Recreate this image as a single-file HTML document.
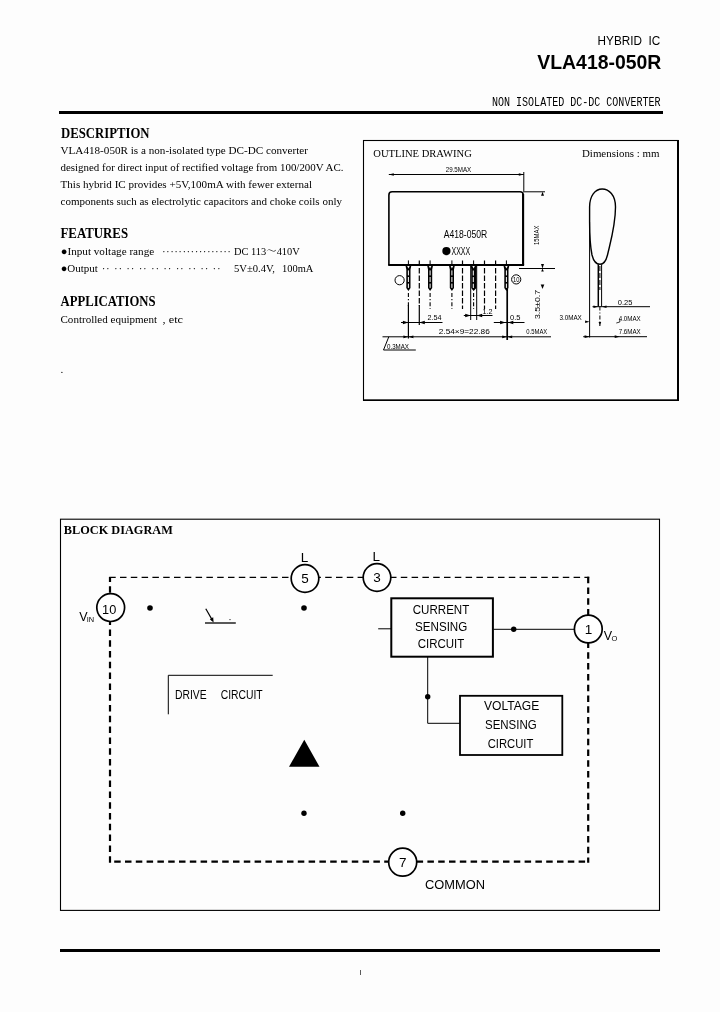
<!DOCTYPE html>
<html lang="en">
<head>
<meta charset="utf-8">
<title>VLA418-050R</title>
<style>
html,body{margin:0;padding:0;background:#fdfdfd;}
body{width:720px;height:1012px;overflow:hidden;position:relative;}
svg{position:absolute;left:0;top:0;display:block;filter:grayscale(1);}
text{fill:#000;}
.sans{font-family:"Liberation Sans",sans-serif;}
.serif{font-family:"Liberation Serif",serif;}
.mono{font-family:"Liberation Mono",monospace;}
.b{font-weight:bold;}
.ln{stroke:#000;fill:none;}
</style>
</head>
<body>
<svg width="720" height="1012" viewBox="0 0 720 1012">
<!-- ===== header ===== -->
<g id="header">
<text class="sans" x="597.6" y="44.9" font-size="13.4" textLength="44.4" lengthAdjust="spacingAndGlyphs">HYBRID</text>
<text class="sans" x="648.6" y="44.9" font-size="13.4" textLength="11.8" lengthAdjust="spacingAndGlyphs">IC</text>
<text class="sans b" x="661.3" y="68.8" font-size="20" text-anchor="end" textLength="124" lengthAdjust="spacingAndGlyphs">VLA418-050R</text>
<text class="mono" x="660.5" y="105.5" font-size="12.5" text-anchor="end" textLength="168.5" lengthAdjust="spacingAndGlyphs">NON ISOLATED DC-DC CONVERTER</text>
<rect x="59" y="111" width="604" height="3" fill="#000"/>
</g>

<!-- ===== left text ===== -->
<g id="lefttext">
<text class="serif b" x="61" y="137.8" font-size="14.3" textLength="88.5" lengthAdjust="spacingAndGlyphs">DESCRIPTION</text>
<g class="serif" font-size="11">
<text x="60.5" y="154.2" textLength="247.5" lengthAdjust="spacingAndGlyphs">VLA418-050R is a non-isolated type DC-DC converter</text>
<text x="60.5" y="170.7" textLength="283" lengthAdjust="spacingAndGlyphs">designed for direct input of rectified voltage from 100/200V AC.</text>
<text x="60.5" y="187.7" textLength="251.5" lengthAdjust="spacingAndGlyphs">This hybrid IC provides +5V,100mA with fewer external</text>
<text x="60.5" y="204.6" textLength="281.5" lengthAdjust="spacingAndGlyphs">components such as electrolytic capacitors and choke coils only</text>
</g>
<text class="serif b" x="60.5" y="238.2" font-size="14.3" textLength="67.6" lengthAdjust="spacingAndGlyphs">FEATURES</text>
<g class="serif" font-size="11">
<text x="60.7" y="255.1" textLength="93.5" lengthAdjust="spacingAndGlyphs">●Input voltage range</text>
<text x="162" y="255.1" textLength="69" lengthAdjust="spacing" fill="#555">·················</text>
<text x="234" y="255.1" textLength="65.8" lengthAdjust="spacingAndGlyphs" style="font-family:'Liberation Serif','Noto Serif CJK JP',serif">DC 113～410V</text>
<text x="60.7" y="271.6" textLength="37.1" lengthAdjust="spacingAndGlyphs">●Output</text>
<text x="101.7" y="271.6" textLength="119" lengthAdjust="spacing" fill="#555">·· ·· ·· ·· ·· ·· ·· ·· ·· ··</text>
<text x="234" y="271.6" textLength="41" lengthAdjust="spacingAndGlyphs">5V±0.4V,</text>
<text x="282" y="271.6" textLength="31.3" lengthAdjust="spacingAndGlyphs">100mA</text>
</g>
<text class="serif b" x="60.5" y="305.8" font-size="14.3" textLength="95" lengthAdjust="spacingAndGlyphs">APPLICATIONS</text>
<g class="serif" font-size="11">
<text x="60.5" y="322.6" textLength="96.6" lengthAdjust="spacingAndGlyphs">Controlled equipment</text>
<text x="162.6" y="322.6" textLength="20.4" lengthAdjust="spacingAndGlyphs">, etc</text>
<text x="60.5" y="373">.</text>
</g>
</g>

<!-- ===== outline drawing ===== -->
<g id="outline">
<defs>
<g id="pin">
<line x1="0" y1="-4.5" x2="0" y2="0" stroke="#000" stroke-width="1"/>
<path d="M-2.9,0.8 L2.9,0.8 L2.1,4.5 L2.1,23 L0,26 L-2.1,23 L-2.1,4.5 Z" fill="#000"/>
<path d="M-1.2,1 L0,3.6 L1.2,1 Z" fill="#fff"/>
<line x1="0" y1="5.5" x2="0" y2="23" stroke="#fff" stroke-width="1" stroke-dasharray="5 1.6"/>
</g>
</defs>
<!-- frame -->
<rect x="363.5" y="140.5" width="314.5" height="259.7" class="ln" stroke-width="1.1"/>
<line x1="678" y1="140" x2="678" y2="401" class="ln" stroke-width="2"/>
<line x1="363" y1="400.2" x2="679" y2="400.2" class="ln" stroke-width="1.4"/>
<text class="serif" x="373.3" y="157.2" font-size="10.5" textLength="98.5" lengthAdjust="spacingAndGlyphs">OUTLINE DRAWING</text>
<text class="serif" x="582" y="157.2" font-size="10.5" textLength="77.5" lengthAdjust="spacingAndGlyphs">Dimensions : mm</text>

<!-- front view body -->
<path d="M388.9,264.9 L388.9,195 Q388.9,191.8 392.1,191.8 L520,191.8 Q523.2,191.8 523.2,195 L523.2,264.9" class="ln" stroke-width="1.6"/>
<line x1="388.2" y1="264.9" x2="524.1" y2="264.9" class="ln" stroke-width="2"/>
<line x1="523.1" y1="194" x2="523.1" y2="265" class="ln" stroke-width="2.1"/>
<text class="sans" x="443.8" y="238" font-size="11.2" textLength="43.5" lengthAdjust="spacingAndGlyphs">A418-050R</text>
<circle cx="446.4" cy="251.1" r="4.1" fill="#000"/>
<text class="sans" x="451.5" y="254.8" font-size="10.6" textLength="18.7" lengthAdjust="spacingAndGlyphs">XXXX</text>

<!-- top dimension 29.5MAX -->
<line x1="388.8" y1="174.5" x2="523.8" y2="174.5" class="ln" stroke-width="1"/>
<path d="M388.8,174.5 l5,-1.3 v2.6 z M523.8,174.5 l-5,-1.3 v2.6 z" fill="#000"/>
<line x1="523.8" y1="172" x2="523.8" y2="191" class="ln" stroke-width="1"/>
<text class="sans" x="445.75" y="172.3" font-size="8" textLength="25.5" lengthAdjust="spacingAndGlyphs">29.5MAX</text>

<!-- right side dimensions -->
<line x1="523" y1="191.8" x2="545" y2="191.8" class="ln" stroke-width="1"/>
<path d="M542.5,191.8 l-1.5,4 h3 z" fill="#000"/>
<line x1="519" y1="268.5" x2="555" y2="268.5" class="ln" stroke-width="1"/>
<path d="M542.5,268.5 l-1.5,-4.5 h3 z M542.5,268.5 l-1.3,3 h2.6 z" fill="#000"/>
<path d="M542.5,289 l-1.8,-4.5 h3.6 z" fill="#000"/>
<text class="sans" font-size="8" transform="translate(539,245) rotate(-90)" textLength="19.5" lengthAdjust="spacingAndGlyphs">15MAX</text>
<text class="sans" font-size="8" transform="translate(540.2,319) rotate(-90)" textLength="29" lengthAdjust="spacingAndGlyphs">3.5±0.7</text>

<!-- pins -->
<use href="#pin" x="408.4" y="264.9"/>
<use href="#pin" x="430.1" y="264.9"/>
<use href="#pin" x="451.9" y="264.9"/>
<use href="#pin" x="506.4" y="264.9"/>
<!-- pin 7 (wide) -->
<line x1="473.6" y1="260.4" x2="473.6" y2="264.9" class="ln" stroke-width="1"/>
<path d="M470.6,265.7 L476.8,265.7 L476.4,269 L476.4,288 L473.6,291 L471.2,288 L471.2,269 Z" fill="#000"/>
<path d="M472.4,266 L473.6,268.6 L474.8,266 Z" fill="#fff"/>
<line x1="473.3" y1="270.5" x2="473.3" y2="288" stroke="#fff" stroke-width="1" stroke-dasharray="5 1.6"/>
<line x1="470.7" y1="265" x2="470.7" y2="320" class="ln" stroke-width="1"/>
<line x1="476.7" y1="265" x2="476.7" y2="320" class="ln" stroke-width="1"/>
<!-- pin centre lines -->
<g class="ln" stroke-width="1.1" stroke-dasharray="4 2 1.3 2">
<line x1="408.4" y1="293" x2="408.4" y2="306"/>
<line x1="430.1" y1="293" x2="430.1" y2="309"/>
<line x1="451.9" y1="293" x2="451.9" y2="309"/>
<line x1="473.6" y1="293" x2="473.6" y2="309"/>
</g>
<line x1="507.2" y1="289" x2="507.2" y2="340" class="ln" stroke-width="1.7"/>
<line x1="408.4" y1="305" x2="408.4" y2="338.5" class="ln" stroke-width="1.2"/>
<line x1="419.3" y1="305" x2="419.3" y2="325" class="ln" stroke-width="1.2"/>
<!-- absent pins dashed -->
<g class="ln" stroke-width="1.2" stroke-dasharray="5.5 2">
<line x1="419.3" y1="260.4" x2="419.3" y2="306"/>
<line x1="462.5" y1="260.4" x2="462.5" y2="309"/>
<line x1="484.5" y1="260.4" x2="484.5" y2="309"/>
<line x1="495.6" y1="260.4" x2="495.6" y2="309"/>
</g>
<!-- pin markers -->
<circle cx="399.6" cy="280.2" r="4.6" class="ln" stroke-width="1"/>
<circle cx="516.2" cy="279.4" r="4.6" class="ln" stroke-width="1"/>
<text class="sans" x="516.3" y="282" font-size="7.5" text-anchor="middle" textLength="6.4" lengthAdjust="spacingAndGlyphs">10</text>

<!-- 2.54 -->
<line x1="401" y1="322.5" x2="442.5" y2="322.5" class="ln" stroke-width="1"/>
<path d="M408.4,322.5 l-5.5,-1.7 v3.4 z M419.3,322.5 l5.5,-1.7 v3.4 z" fill="#000"/>
<text class="sans" x="427.5" y="320.3" font-size="8" textLength="14" lengthAdjust="spacingAndGlyphs">2.54</text>
<!-- 1.2 -->
<line x1="463.8" y1="315.5" x2="492.5" y2="315.5" class="ln" stroke-width="1"/>
<path d="M470.7,315.5 l-5.5,-1.7 v3.4 z M476.7,315.5 l5.5,-1.7 v3.4 z" fill="#000"/>
<text class="sans" x="482.5" y="313.8" font-size="8" textLength="10" lengthAdjust="spacingAndGlyphs">1.2</text>
<!-- 0.5 -->
<line x1="493.8" y1="322.5" x2="524.5" y2="322.5" class="ln" stroke-width="1"/>
<path d="M505.6,322.5 l-5.5,-1.7 v3.4 z M507.8,322.5 l5.5,-1.7 v3.4 z" fill="#000"/>
<text class="sans" x="510" y="320.3" font-size="8" textLength="10.5" lengthAdjust="spacingAndGlyphs">0.5</text>
<!-- bottom dimension -->
<line x1="382.5" y1="336.8" x2="551" y2="336.8" class="ln" stroke-width="1"/>
<path d="M408.4,336.8 l-5,-1.4 v2.8 z M408.4,336.8 l5,-1.4 v2.8 z M507.2,336.8 l-5,-1.4 v2.8 z M507.2,336.8 l5,-1.4 v2.8 z" fill="#000"/>
<text class="sans" x="438.75" y="334" font-size="8" textLength="51" lengthAdjust="spacingAndGlyphs">2.54×9=22.86</text>
<text class="sans" x="526.3" y="334" font-size="8" textLength="21" lengthAdjust="spacingAndGlyphs">0.5MAX</text>
<!-- 0.3MAX leader -->
<path d="M388.8,336.8 L383.5,350 L415.8,350" class="ln" stroke-width="1"/>
<text class="sans" x="387" y="348.7" font-size="8" textLength="22" lengthAdjust="spacingAndGlyphs">0.3MAX</text>

<!-- side view -->
<path d="M602.2,189 C609,189 615.5,195 615.5,207 C615.5,225 611,240 607.5,255 C606,261 604,264.3 600,264.3 C596,264.3 593.5,261 592,255 C590,245 589.6,235 589.6,222 L589.6,207 C589.6,196 595,189 602.2,189 Z" class="ln" stroke-width="1.4"/>
<line x1="589.6" y1="222" x2="589.6" y2="337.5" class="ln" stroke-width="1"/>
<line x1="598.3" y1="264.3" x2="598.3" y2="306.5" class="ln" stroke-width="1.5"/>
<line x1="601.6" y1="264.3" x2="601.6" y2="306.5" class="ln" stroke-width="1"/>
<line x1="599.9" y1="266" x2="599.9" y2="290" class="ln" stroke-width="1" stroke-dasharray="5 2"/>
<line x1="599.9" y1="306.5" x2="599.9" y2="326" class="ln" stroke-width="1" stroke-dasharray="4 2 1 2"/>
<!-- 0.25 -->
<line x1="592.5" y1="306.7" x2="650" y2="306.7" class="ln" stroke-width="1"/>
<path d="M598,306.7 l-4.5,-1.3 v2.6 z M602,306.7 l4.5,-1.3 v2.6 z" fill="#000"/>
<text class="sans" x="617.8" y="304.6" font-size="8" textLength="14.6" lengthAdjust="spacingAndGlyphs">0.25</text>
<text class="sans" x="559.4" y="319.8" font-size="8" textLength="22.4" lengthAdjust="spacingAndGlyphs">3.0MAX</text>
<path d="M589.6,321.7 l-4.5,-1.3 v2.6 z" fill="#000"/>
<path d="M599.9,326 l-1.3,-4 h2.6 z" fill="#000"/>
<text class="sans" x="618.7" y="320.8" font-size="8" textLength="22" lengthAdjust="spacingAndGlyphs">4.0MAX</text>
<path d="M616.3,323 l3.5,-1 v-3" class="ln" stroke-width="0.8"/>
<text class="sans" x="618.7" y="334.4" font-size="8" textLength="22" lengthAdjust="spacingAndGlyphs">7.6MAX</text>
<line x1="583.2" y1="336.7" x2="647" y2="336.7" class="ln" stroke-width="1"/>
<path d="M589.6,336.7 l-5,-1.4 v2.8 z M619.7,336.7 l-5,-1.4 v2.8 z" fill="#000"/>
</g>

<!-- ===== block diagram ===== -->
<g id="block">
<rect x="60.5" y="519.2" width="599" height="391.2" class="ln" stroke-width="1.1"/>
<text class="serif b" x="63.8" y="533.9" font-size="13.2" textLength="109" lengthAdjust="spacingAndGlyphs">BLOCK DIAGRAM</text>

<!-- dashed loop -->
<g class="ln" stroke-dasharray="6.5 4.3">
<path d="M109.2,577.4 L589.2,577.4" stroke-width="1.2"/>
<path d="M110,862.7 L110,577" stroke-width="2.2"/>
<path d="M588.2,576.7 L588.2,862.8" stroke-width="2.2"/>
<path d="M114.2,861.7 L589.3,861.7" stroke-width="2.2"/>
</g>

<!-- terminals -->
<g fill="#fff" stroke="#000" stroke-width="1.7">
<circle cx="110.7" cy="607.6" r="13.9"/>
<circle cx="305" cy="578.5" r="13.8"/>
<circle cx="377" cy="577.5" r="13.8"/>
<circle cx="588.3" cy="629" r="13.9"/>
<circle cx="402.7" cy="862.2" r="14"/>
</g>
<g class="sans" font-size="13.5" text-anchor="middle">
<text x="109.2" y="613.8" textLength="14.2" lengthAdjust="spacingAndGlyphs">10</text>
<text x="305" y="583.2">5</text>
<text x="377" y="581.5">3</text>
<text x="588.6" y="634">1</text>
<text x="402.7" y="867.4">7</text>
<text x="304.5" y="562">L</text>
<text x="376.3" y="561.2">L</text>
</g>
<text class="sans" x="79.3" y="621.4" font-size="12.5">V</text>
<text class="sans" x="86.8" y="622.4" font-size="8" textLength="7.4" lengthAdjust="spacingAndGlyphs">IN</text>
<text class="sans" x="603.8" y="640" font-size="12.5">V</text>
<text class="sans" x="611.6" y="640.6" font-size="7.5">O</text>

<!-- dots -->
<g fill="#000">
<circle cx="150" cy="608" r="2.8"/>
<circle cx="304" cy="608" r="2.8"/>
<circle cx="304" cy="813.3" r="2.7"/>
<circle cx="402.7" cy="813.3" r="2.7"/>
<circle cx="513.7" cy="629.3" r="2.7"/>
<circle cx="427.7" cy="696.7" r="2.7"/>
<circle cx="230" cy="619.6" r="0.6"/>
</g>

<!-- switch symbol -->
<line x1="205" y1="623" x2="235.8" y2="623" class="ln" stroke-width="1.3"/>
<line x1="205.8" y1="608.8" x2="212.6" y2="620.6" class="ln" stroke-width="1.2"/>
<path d="M213.6,622.4 L209.8,619.2 L213.2,617.2 Z" fill="#000"/>

<!-- drive circuit -->
<path d="M168.3,714.3 L168.3,675.3 L272.7,675.3" class="ln" stroke-width="1"/>
<text class="sans" x="175" y="699" font-size="13" textLength="31.7" lengthAdjust="spacingAndGlyphs">DRIVE</text>
<text class="sans" x="220.7" y="699" font-size="13" textLength="42" lengthAdjust="spacingAndGlyphs">CIRCUIT</text>

<!-- triangle -->
<path d="M304.3,739.8 L319.5,766.8 L289,766.8 Z" fill="#000"/>

<!-- current sensing circuit -->
<rect x="391.3" y="598.3" width="101.6" height="58.4" class="ln" stroke-width="2"/>
<g class="sans" font-size="13.5">
<text x="412.7" y="614" textLength="56.6" lengthAdjust="spacingAndGlyphs">CURRENT</text>
<text x="415" y="630.8" textLength="52.3" lengthAdjust="spacingAndGlyphs">SENSING</text>
<text x="417.7" y="647.8" textLength="46.6" lengthAdjust="spacingAndGlyphs">CIRCUIT</text>
</g>
<line x1="378.2" y1="628.8" x2="391" y2="628.8" class="ln" stroke-width="1"/>
<line x1="493.5" y1="629.3" x2="574.5" y2="629.3" class="ln" stroke-width="1"/>
<path d="M427.7,657 L427.7,723.3 L460,723.3" class="ln" stroke-width="1"/>

<!-- voltage sensing circuit -->
<rect x="460" y="695.8" width="102.3" height="59.2" class="ln" stroke-width="1.8"/>
<g class="sans" font-size="13.5">
<text x="484" y="710" textLength="55.3" lengthAdjust="spacingAndGlyphs">VOLTAGE</text>
<text x="485" y="729" textLength="51.7" lengthAdjust="spacingAndGlyphs">SENSING</text>
<text x="487.7" y="748.3" textLength="45.6" lengthAdjust="spacingAndGlyphs">CIRCUIT</text>
</g>
<text class="sans" x="425" y="889" font-size="13" textLength="60" lengthAdjust="spacingAndGlyphs">COMMON</text>
</g>

<!-- ===== footer ===== -->
<g id="footer">
<rect x="60" y="949" width="600" height="3" fill="#000"/>
<text class="sans" x="360.5" y="975" font-size="7" text-anchor="middle">I</text>
</g>
</svg>
</body>
</html>
